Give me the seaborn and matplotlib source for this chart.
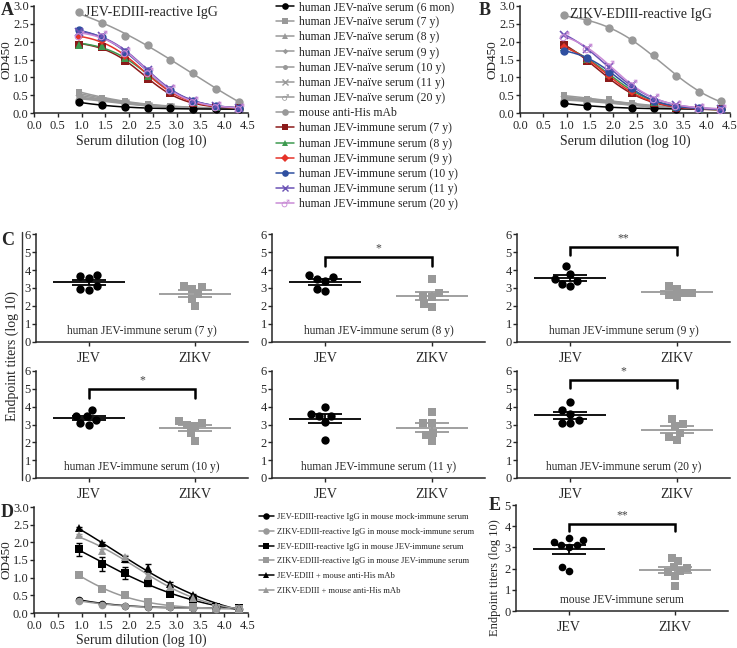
import numpy as np
import pandas as pd
import matplotlib
matplotlib.use("Agg")
import matplotlib.pyplot as plt
from matplotlib.lines import Line2D
import seaborn as sns

# ---- data -------------------------------------------------------------
# serum dilutions (3-fold from 1:9) as log10
dilution_log10 = [0.95, 1.43, 1.91, 2.39, 2.87, 3.35, 3.83, 4.31]

naive_labels = ["human JEV-naïve serum (6 mon)", "human JEV-naïve serum (7 y)",
                "human JEV-naïve serum (8 y)", "human JEV-naïve serum (9 y)",
                "human JEV-naïve serum (10 y)", "human JEV-naïve serum (11 y)",
                "human JEV-naïve serum (20 y)"]
mab_label = "mouse anti-His mAb"
immune_labels = ["human JEV-immune serum (7 y)", "human JEV-immune serum (8 y)",
                 "human JEV-immune serum (9 y)", "human JEV-immune serum (10 y)",
                 "human JEV-immune serum (11 y)", "human JEV-immune serum (20 y)"]

# panel A: JEV-EDIII-reactive IgG (OD450)
a_naive = [
    [0.30, 0.22, 0.16, 0.14, 0.13, 0.12, 0.11, 0.10],
    [0.60, 0.42, 0.35, 0.25, 0.19, 0.16, 0.14, 0.13],
    [0.55, 0.40, 0.33, 0.23, 0.18, 0.15, 0.14, 0.13],
    [0.50, 0.38, 0.30, 0.22, 0.17, 0.15, 0.13, 0.12],
    [0.45, 0.36, 0.30, 0.21, 0.17, 0.14, 0.13, 0.12],
    [0.42, 0.35, 0.28, 0.20, 0.16, 0.14, 0.13, 0.12],
    [0.40, 0.33, 0.27, 0.19, 0.16, 0.14, 0.12, 0.12],
]
a_mab = [2.82, 2.52, 2.15, 1.92, 1.50, 1.12, 0.68, 0.30]
a_immune = [
    [1.92, 1.85, 1.47, 0.95, 0.55, 0.28, 0.17, 0.13],
    [1.92, 1.88, 1.55, 1.05, 0.65, 0.32, 0.18, 0.15],
    [2.12, 2.02, 1.60, 1.10, 0.60, 0.30, 0.18, 0.14],
    [2.32, 2.12, 1.72, 1.17, 0.65, 0.35, 0.20, 0.15],
    [2.28, 2.15, 1.75, 1.20, 0.67, 0.35, 0.20, 0.15],
    [2.20, 2.20, 1.70, 1.15, 0.66, 0.33, 0.19, 0.15],
]

# panel B: ZIKV-EDIII-reactive IgG (OD450)
b_naive = [
    [0.27, 0.20, 0.16, 0.14, 0.13, 0.12, 0.11, 0.10],
    [0.50, 0.38, 0.38, 0.27, 0.20, 0.16, 0.13, 0.12],
    [0.45, 0.37, 0.36, 0.25, 0.19, 0.15, 0.13, 0.12],
    [0.42, 0.36, 0.34, 0.24, 0.18, 0.15, 0.13, 0.11],
    [0.40, 0.35, 0.32, 0.23, 0.18, 0.14, 0.12, 0.11],
    [0.38, 0.34, 0.30, 0.22, 0.17, 0.14, 0.12, 0.11],
    [0.36, 0.33, 0.28, 0.21, 0.17, 0.14, 0.12, 0.11],
]
b_mab = [2.75, 2.58, 2.38, 2.05, 1.62, 1.03, 0.60, 0.33]
b_immune = [
    [1.92, 1.47, 0.98, 0.55, 0.28, 0.15, 0.12, 0.10],
    [1.85, 1.52, 1.10, 0.65, 0.32, 0.17, 0.12, 0.11],
    [1.85, 1.50, 1.05, 0.60, 0.30, 0.16, 0.12, 0.10],
    [1.75, 1.55, 1.15, 0.70, 0.35, 0.18, 0.13, 0.11],
    [2.20, 1.80, 1.28, 0.78, 0.40, 0.22, 0.14, 0.12],
    [2.15, 1.82, 1.35, 0.82, 0.42, 0.22, 0.15, 0.12],
]

# panel C: endpoint titers (log10), six sera each
c_ages = ["7 y", "8 y", "9 y", "10 y", "11 y", "20 y"]
c_jev = [
    [3.64, 3.55, 3.72, 3.09, 2.87, 2.97],
    [3.75, 3.50, 2.85, 2.95, 3.40, 3.60],
    [4.20, 3.80, 3.40, 3.10, 3.20, 3.50],
    [3.80, 3.50, 3.45, 3.25, 3.00, 3.10],
    [4.00, 3.60, 3.50, 3.50, 3.15, 2.15],
    [4.25, 3.80, 3.60, 3.25, 3.10, 3.10],
]
c_zikv = [
    [3.10, 2.95, 2.65, 2.40, 3.05, 2.00],
    [3.50, 2.70, 2.55, 2.50, 2.10, 1.95],
    [3.10, 2.95, 2.70, 2.50, 2.60, 2.75],
    [3.20, 3.00, 2.90, 3.10, 2.50, 2.10],
    [3.70, 3.10, 3.10, 2.55, 2.40, 2.10],
    [3.30, 3.05, 2.90, 2.55, 2.30, 2.15],
]
c_stars = [None, "*", "**", "*", None, "*"]

# panel D: mouse sera (OD450) with SEM
d_labels = ["JEV-EDIII-reactive IgG in mouse mock-immune serum",
            "ZIKV-EDIII-reactive IgG in mouse mock-immune serum",
            "JEV-EDIII-reactive IgG in mouse JEV-immune serum",
            "ZIKV-EDIII-reactive IgG in mouse JEV-immune serum",
            "JEV-EDIII + mouse anti-His mAb",
            "ZIKV-EDIII + mouse anti-His mAb"]
d_od = [
    [0.38, 0.25, 0.21, 0.18, 0.17, 0.15, 0.13, 0.12],
    [0.35, 0.24, 0.20, 0.17, 0.16, 0.14, 0.12, 0.11],
    [1.80, 1.38, 1.13, 0.85, 0.55, 0.35, 0.17, 0.13],
    [1.07, 0.68, 0.50, 0.30, 0.20, 0.16, 0.13, 0.12],
    [2.40, 1.97, 1.52, 1.27, 0.83, 0.50, 0.20, 0.15],
    [2.20, 1.75, 1.58, 1.05, 0.75, 0.42, 0.20, 0.15],
]
d_sem = [
    [0.03, 0.02, 0.02, 0.01, 0.01, 0.01, 0.01, 0.01],
    [0.03, 0.02, 0.02, 0.01, 0.01, 0.01, 0.01, 0.01],
    [0.18, 0.20, 0.18, 0.08, 0.05, 0.04, 0.02, 0.02],
    [0.04, 0.04, 0.03, 0.02, 0.02, 0.01, 0.01, 0.01],
    [0.03, 0.05, 0.08, 0.12, 0.05, 0.03, 0.02, 0.01],
    [0.03, 0.05, 0.06, 0.05, 0.04, 0.02, 0.02, 0.01],
]

# panel E: mouse JEV-immune serum endpoint titers
e_jev = [3.46, 3.24, 3.11, 3.03, 3.13, 3.35, 1.89, 2.09]
e_zikv = [2.50, 2.35, 2.08, 2.05, 1.82, 1.90, 1.65, 1.20]

# ---- style ------------------------------------------------------------
GREY = "#999999"
naive_style = [("black", "o", 6), (GREY, "s", 5), (GREY, "^", 5), (GREY, "D", 3.5),
               (GREY, "o", 4.5), (GREY, "x", 5), (GREY, "$\u2642$", 6)]
mab_style = (GREY, "o", 6)
immune_style = [("#8b1a1a", "s", 6), ("#3d9a4f", "^", 6), ("#e63329", "D", 4.5),
                ("#2f4fa0", "o", 6), ("#6b52b5", "x", 6), ("#c98bd6", "$\u2642$", 7)]
d_style = [("black", "o", 5.5), (GREY, "o", 5.5), ("black", "s", 5.5),
           (GREY, "s", 5.5), ("black", "^", 5.5), (GREY, "^", 5.5)]

sns.set_style("ticks")
plt.rcParams["font.family"] = ["Liberation Serif", "DejaVu Serif"]
plt.rcParams["mathtext.fontset"] = "dejavuserif"

W, H = 737, 648
fig = plt.figure(figsize=(W / 100, H / 100), dpi=100)


def box(l, t, r, b):
    return fig.add_axes([l / W, 1 - b / H, (r - l) / W, (b - t) / H])


def style(ax, size=9):
    sns.despine(ax=ax)
    for sp in ["left", "bottom"]:
        ax.spines[sp].set_linewidth(1.1)
    ax.tick_params(length=3.2, width=1.0, labelsize=size, pad=1.5)
    ax.tick_params(axis="y", pad=0.6)


EC, HILL = np.meshgrid(np.linspace(0.5, 5.5, 101), np.linspace(0.3, 4.0, 75))


def fit_logistic(x, y):
    """least-squares 4-parameter logistic (grid over EC50 / Hill slope)"""
    x = np.asarray(x, float)
    y = np.asarray(y, float)
    ec = EC.ravel()[:, None]
    h = HILL.ravel()[:, None]
    s = 1.0 / (1.0 + 10 ** ((x[None, :] - ec) * h))
    sm = s.mean(1, keepdims=True)
    ym = y.mean()
    var = ((s - sm) ** 2).sum(1, keepdims=True) + 1e-12
    slope = ((s - sm) * (y - ym)).sum(1, keepdims=True) / var
    icpt = ym - slope * sm
    sse = ((icpt + slope * s - y) ** 2).sum(1)
    k = np.argmin(sse)
    xs = np.linspace(x.min(), x.max(), 200)
    ss = 1.0 / (1.0 + 10 ** ((xs - ec[k, 0]) * h[k, 0]))
    return xs, icpt[k, 0] + slope[k, 0] * ss


def curve(ax, y, color, marker, ms, sem=None, lw=1.1):
    xs, ys = fit_logistic(dilution_log10, y)
    sns.lineplot(x=xs, y=ys, color=color, lw=lw, ax=ax, estimator=None, sort=False)
    if sem is not None:
        ax.errorbar(dilution_log10, y, yerr=sem, fmt="none", ecolor=color,
                    elinewidth=1.0, capsize=2.5, capthick=1.0)
    mew = 1.2 if marker == "x" else 0
    ax.plot(dilution_log10, y, ls="none", marker=marker, ms=ms, color=color,
            mew=mew, clip_on=False, zorder=3)


def od_axes(ax, labelpad=2):
    ax.set_xlim(0, 4.5)
    ax.set_ylim(0, 3.0)
    ax.set_xticks(np.arange(0, 4.51, 0.5))
    ax.set_yticks(np.arange(0, 3.01, 0.5))
    ax.xaxis.set_major_formatter(matplotlib.ticker.FormatStrFormatter("%.1f"))
    ax.yaxis.set_major_formatter(matplotlib.ticker.FormatStrFormatter("%.1f"))
    ax.set_xlabel("Serum dilution (log 10)", fontsize=10, labelpad=labelpad)
    ax.set_ylabel("OD450", fontsize=9.5, labelpad=0.5)
    style(ax)


# ---- panels A and B ---------------------------------------------------
for (l, r), naive, mab, immune, title in [
        ((34, 248), a_naive, a_mab, a_immune, "JEV-EDIII-reactive IgG"),
        ((520, 730), b_naive, b_mab, b_immune, "ZIKV-EDIII-reactive IgG")]:
    ax = box(l, 6, r, 113)
    for vals, (c, m, ms) in list(zip(naive, naive_style))[1:]:
        curve(ax, vals, c, m, ms)
    curve(ax, naive[0], *naive_style[0])
    curve(ax, mab, *mab_style)
    for vals, (c, m, ms) in zip(immune, immune_style):
        curve(ax, vals, c, m, ms)
    ax.text(1.08, mab[0], title, fontsize=10, va="center", ha="left")
    od_axes(ax)

handles = []
for lab, (c, m, ms) in zip(naive_labels + [mab_label] + immune_labels,
                           naive_style + [mab_style] + immune_style):
    handles.append(Line2D([], [], color=c, marker=m, ms=ms * 0.8, lw=1.1,
                          mew=1.0 if m == "x" else 0, label=lab))
fig.legend(handles=handles, loc="upper left", bbox_to_anchor=(276 / W, 1 - 1 / H),
           frameon=False, fontsize=8.5, labelspacing=0.27, handlelength=1.5,
           handletextpad=0.45, borderpad=0, borderaxespad=0)


# ---- scatter panels (C and E) ----------------------------------------
def titer_panel(ax, jev, zikv, text, star, ymax, bracket, msize=6):
    df = pd.DataFrame({"virus": ["JEV"] * len(jev) + ["ZIKV"] * len(zikv),
                       "titer": list(jev) + list(zikv)})
    sns.swarmplot(data=df[df.virus == "JEV"], x="virus", y="titer",
                  order=["JEV", "ZIKV"], color="black", marker="o", size=msize, ax=ax)
    sns.swarmplot(data=df[df.virus == "ZIKV"], x="virus", y="titer",
                  order=["JEV", "ZIKV"], color=GREY, marker="s", size=msize * 0.95, ax=ax)
    for i, (vals, c) in enumerate([(jev, "black"), (zikv, GREY)]):
        m = np.mean(vals)
        se = np.std(vals, ddof=1) / np.sqrt(len(vals))
        ax.hlines(m, i - 0.34, i + 0.34, color=c, lw=1.3, zorder=4)
        ax.hlines([m - se, m + se], i - 0.16, i + 0.16, color=c, lw=1.3, zorder=4)
        ax.vlines(i, m - se, m + se, color=c, lw=1.3, zorder=4)
    if star:
        top, drop = bracket
        ax.plot([0, 0, 1, 1], [drop, top, top, drop], color="black", lw=1.8,
                solid_joinstyle="miter")
        ax.text(0.5, top + 0.15 * ymax / 6, star, ha="center", va="bottom",
                fontsize=8.5, color="#444444")
    ax.text(0.5, 0.6 * ymax / 6, text, ha="center", va="center", fontsize=8.3)
    ax.set_xlim(-0.5, 1.5)
    ax.set_ylim(0, ymax)
    ax.set_yticks(range(ymax + 1))
    ax.set_xlabel("")
    ax.set_ylabel("")
    style(ax, size=9)
    ax.tick_params(axis="x", labelsize=10, pad=4)


c_cols = [(36, 248), (272, 485), (517, 730)]
c_rows = [(234, 342), (371, 478)]
c_brackets = [None, (4.7, 4.25), (5.3, 4.85), (5.0, 4.5), None, (5.5, 5.05)]
for k in range(6):
    (l, r), (t, b) = c_cols[k % 3], c_rows[k // 3]
    ax = box(l, t, r, b)
    titer_panel(ax, c_jev[k], c_zikv[k], f"human JEV-immune serum ({c_ages[k]})",
                c_stars[k], 6, c_brackets[k])

fig.text(12 / W, 1 - 356 / H, "Endpoint titers (log 10)", rotation=90,
         ha="center", va="center", fontsize=10)
fig.add_artist(Line2D([22 / W, 22 / W], [1 - 232 / H, 1 - 480 / H], color="#333333", lw=1.0))

ax = box(516, 505, 728, 611)
titer_panel(ax, e_jev, e_zikv, "mouse JEV-immune serum", "**", 5, (4.09, 3.77), msize=5.5)
fig.text(495 / W, 1 - 578 / H, "Endpoint titers (log 10)", rotation=90,
         ha="center", va="center", fontsize=9)

# ---- panel D ----------------------------------------------------------
ax = box(34, 507, 248, 613)
for vals, sem, (c, m, ms) in zip(d_od, d_sem, d_style):
    curve(ax, vals, c, m, ms, sem=sem)
od_axes(ax, labelpad=1.5)

d_handles = [Line2D([], [], color=c, marker=m, ms=ms * 0.85, lw=1.1, mew=0, label=lab)
             for lab, (c, m, ms) in zip(d_labels, d_style)]
fig.legend(handles=d_handles, loc="upper left", bbox_to_anchor=(259 / W, 1 - 513 / H),
           frameon=False, fontsize=6.2, labelspacing=0.78, handlelength=1.7,
           handletextpad=0.35, borderpad=0, borderaxespad=0)

# ---- panel letters ----------------------------------------------------
for letter, x, y in [("A", 1, 2), ("B", 479, 2), ("C", 1, 232), ("D", 1, 504), ("E", 489, 497)]:
    fig.text(x / W, 1 - y / H, letter, fontsize=13, fontweight="bold", va="top", ha="left")

fig.savefig("out.png", dpi=100)
